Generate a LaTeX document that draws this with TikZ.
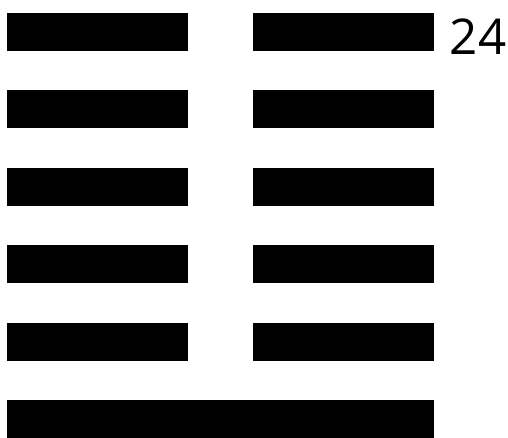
\documentclass[tikz,border=0pt]{standalone}
\usepackage{fontspec}
\setmainfont{Open Sans}
\usetikzlibrary{positioning}

\begin{document}
\begin{tikzpicture}[x=0.75pt, y=-0.75pt,
    yinbar/.style={fill=black},
    label/.style={inner sep=0pt, font=\fontsize{37}{40}\selectfont}]
  \useasboundingbox (0,0) rectangle (508,438);

  % broken lines (top five)
  \foreach \row in {0,...,4} {
    \fill[yinbar] (7, 13+77.5*\row) rectangle (188, 51+77.5*\row);
    \fill[yinbar] (253, 13+77.5*\row) rectangle (434, 51+77.5*\row);
  }

  % solid line (bottom)
  \fill[yinbar] (7, 400.5) rectangle (434, 439);

  % number
  \node[label] (num) at (478, 36.5) {24};
\end{tikzpicture}
\end{document}
